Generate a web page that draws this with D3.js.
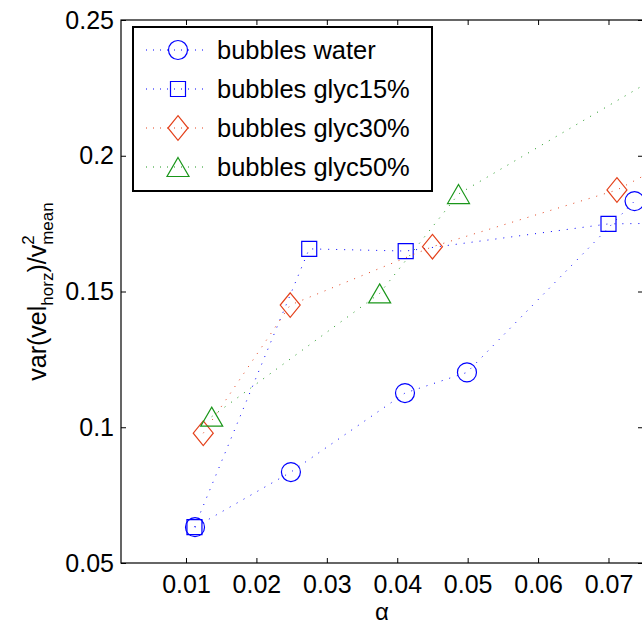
<!DOCTYPE html>
<html>
<head>
<meta charset="utf-8">
<script src="https://cdn.jsdelivr.net/npm/d3@7"></script>
<style>
  html, body { margin: 0; padding: 0; background: #fff; }
  svg { display: block; font-family: "Liberation Sans", Arial, Helvetica, sans-serif; }
</style>
</head>
<body>
<svg id="chart" width="642" height="627"></svg>
<script>
// Void-fraction sweep: horizontal velocity variance of bubbles, normalised by mean velocity squared
const waterAlpha = [0.01128, 0.0249, 0.0411, 0.0499, 0.0737];
const waterVar   = [0.0632, 0.0835, 0.1126, 0.1202, 0.1833];

const glyc15Alpha = [0.0112, 0.0275, 0.0412, 0.0700, 0.0800];
const glyc15Var   = [0.0632, 0.1657, 0.1649, 0.1749, 0.1752];

const glyc30Alpha = [0.01245, 0.0248, 0.0450, 0.0712, 0.0790];
const glyc30Var   = [0.0978, 0.1450, 0.1665, 0.1874, 0.1981];

const glyc50Alpha = [0.01365, 0.0375, 0.0487, 0.0800];
const glyc50Var   = [0.1039, 0.1493, 0.1859, 0.2337];

const seriesNames = ["bubbles water", "bubbles glyc15%", "bubbles glyc30%", "bubbles glyc50%"];
const xTicks = [0.01, 0.02, 0.03, 0.04, 0.05, 0.06, 0.07];
const yTicks = [0.05, 0.1, 0.15, 0.2, 0.25];

const svg = d3.select("#chart");
const plot = { left: 121, right: 643, top: 20, bottom: 563 };

const x = d3.scaleLinear().domain([0.00077, 0.0749]).range([plot.left, plot.right]);
const y = d3.scaleLinear().domain([0.05, 0.25]).range([plot.bottom, plot.top]);

const BLUE = "#0000ff", RED = "#e4411b", GREEN = "#1a961a";

const series = [
  { name: seriesNames[0], xs: waterAlpha,  ys: waterVar,  color: BLUE,  marker: "circle" },
  { name: seriesNames[1], xs: glyc15Alpha, ys: glyc15Var, color: BLUE,  marker: "square" },
  { name: seriesNames[2], xs: glyc30Alpha, ys: glyc30Var, color: RED,   marker: "diamond" },
  { name: seriesNames[3], xs: glyc50Alpha, ys: glyc50Var, color: GREEN, marker: "triangle" }
];

// marker outlines centred on (0,0)
function markerPath(kind) {
  switch (kind) {
    case "circle": return "M9.5,0A9.5,9.5 0 1,1 -9.5,0A9.5,9.5 0 1,1 9.5,0Z";
    case "square": return "M-7.5,-7.5H7.5V7.5H-7.5Z";
    case "diamond": return "M0,-12.3L10,0L0,12.3L-10,0Z";
    case "triangle": return "M0,-9.5L11,9.5L-11,9.5Z";
  }
}

// clip data marks to the axes box
svg.append("defs").append("clipPath").attr("id", "plotClip")
  .append("rect")
  .attr("x", plot.left).attr("y", plot.top)
  .attr("width", plot.right - plot.left).attr("height", plot.bottom - plot.top);

const dataG = svg.append("g").attr("clip-path", "url(#plotClip)");
const line = d3.line().x(d => x(d[0])).y(d => y(d[1]));

series.forEach(s => {
  const pts = s.xs.map((v, i) => [v, s.ys[i]]);
  dataG.append("path")
    .attr("d", line(pts))
    .attr("fill", "none")
    .attr("stroke", s.color)
    .attr("stroke-width", 1)
    .attr("stroke-dasharray", "1 7");
  dataG.selectAll(null).data(pts).enter().append("path")
    .attr("transform", d => `translate(${x(d[0])},${y(d[1])})`)
    .attr("d", markerPath(s.marker))
    .attr("fill", "none")
    .attr("stroke", s.color)
    .attr("stroke-width", 1.2);
});

// axes box with inward ticks on all four sides
const tickLen = 5;
const axG = svg.append("g");
axG.append("rect")
  .attr("x", plot.left).attr("y", plot.top)
  .attr("width", plot.right - plot.left).attr("height", plot.bottom - plot.top)
  .attr("fill", "none").attr("stroke", "#000").attr("stroke-width", 1.2);

const fmt = d => String(+d.toFixed(3));

const xAxisB = d3.axisBottom(x).tickValues(xTicks).tickSizeInner(-tickLen).tickSizeOuter(0).tickPadding(12).tickFormat(fmt);
const xAxisT = d3.axisTop(x).tickValues(xTicks).tickSizeInner(-tickLen).tickSizeOuter(0).tickFormat("");
const yAxisL = d3.axisLeft(y).tickValues(yTicks).tickSizeInner(-tickLen).tickSizeOuter(0).tickPadding(7).tickFormat(fmt);
const yAxisR = d3.axisRight(y).tickValues(yTicks).tickSizeInner(-tickLen).tickSizeOuter(0).tickFormat("");

function styleAxis(g) {
  g.select(".domain").remove();
  g.selectAll(".tick line").attr("stroke", "#000").attr("stroke-width", 1);
  g.selectAll(".tick text").attr("fill", "#000").attr("font-size", 25)
    .attr("font-family", "Liberation Sans, Arial, sans-serif");
}

axG.append("g").attr("transform", `translate(0,${plot.bottom})`).call(xAxisB).call(styleAxis);
axG.append("g").attr("transform", `translate(0,${plot.top})`).call(xAxisT).call(styleAxis);
axG.append("g").attr("transform", `translate(${plot.left},0)`).call(yAxisL).call(styleAxis);
axG.append("g").attr("transform", `translate(${plot.right},0)`).call(yAxisR).call(styleAxis);

// axis titles
svg.append("text")
  .attr("x", (plot.left + plot.right) / 2).attr("y", 620)
  .attr("text-anchor", "middle").attr("font-size", 24).attr("fill", "#000")
  .text("α");

const yl = svg.append("text")
  .attr("transform", `translate(46,${(plot.top + plot.bottom) / 2}) rotate(-90)`)
  .attr("text-anchor", "middle").attr("font-size", 25).attr("fill", "#000");
yl.append("tspan").text("var(vel");
yl.append("tspan").attr("font-size", 17).attr("dy", 7).text("horz");
yl.append("tspan").attr("dy", -7).text(")/v");
yl.append("tspan").attr("font-size", 17).attr("dy", -12).text("2");
yl.append("tspan").attr("font-size", 17).attr("dx", -9.5).attr("dy", 19).text("mean");

// legend
const leg = svg.append("g");
leg.append("rect")
  .attr("x", 133).attr("y", 27).attr("width", 299).attr("height", 164)
  .attr("fill", "#fff").attr("stroke", "#000").attr("stroke-width", 2);

const rowY = d3.scalePoint().domain(seriesNames).range([50, 167]);
series.forEach(s => {
  const cy = rowY(s.name);
  leg.append("line")
    .attr("x1", 146).attr("x2", 208).attr("y1", cy).attr("y2", cy)
    .attr("stroke", s.color).attr("stroke-width", 1).attr("stroke-dasharray", "1 6");
  leg.append("path")
    .attr("transform", `translate(178,${cy})`)
    .attr("d", markerPath(s.marker))
    .attr("fill", "none").attr("stroke", s.color).attr("stroke-width", 1.2);
  leg.append("text")
    .attr("x", 217).attr("y", cy + 9)
    .attr("font-size", 25.5).attr("fill", "#000")
    .text(s.name);
});
</script>
</body>
</html>
